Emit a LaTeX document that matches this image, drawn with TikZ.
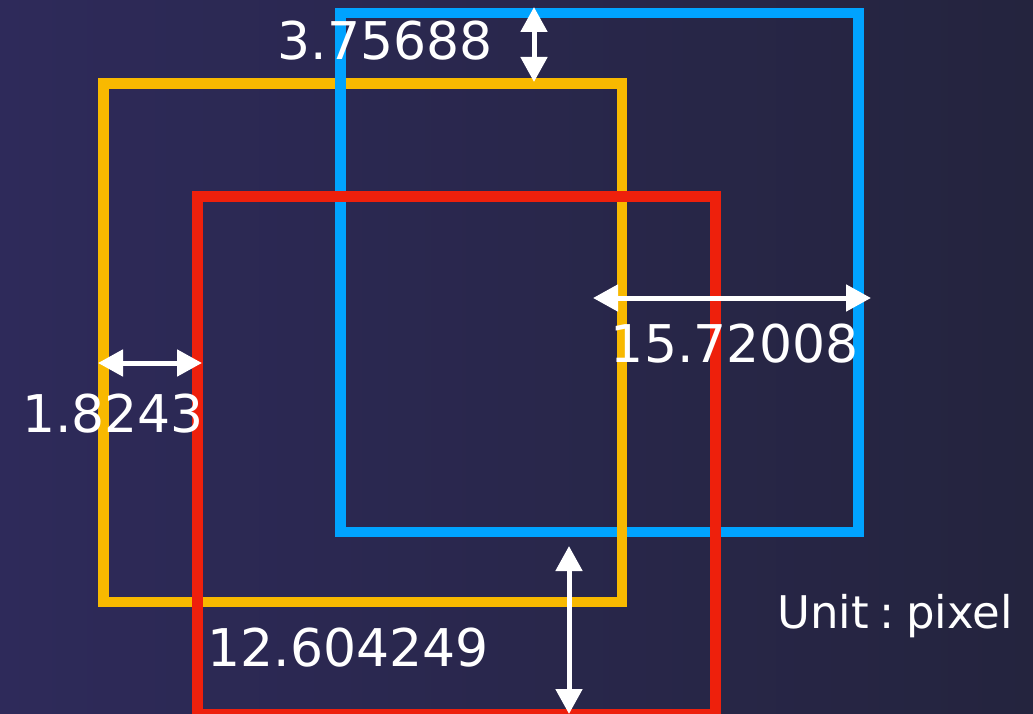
\documentclass[tikz,border=0pt]{standalone}
\usepackage{fontspec}
\setmainfont{DejaVu Sans}
\usetikzlibrary{arrows.meta}
\definecolor{bgleft}{RGB}{46,42,90}
\definecolor{bgright}{RGB}{36,36,62}
\definecolor{boxblue}{RGB}{0,163,255}
\definecolor{boxyellow}{RGB}{248,185,0}
\definecolor{boxred}{RGB}{238,32,12}
\tikzset{
  frame/.style={line width=10.5pt, miter limit=10},
  dimarrow/.style={white, line width=5pt,
    {Triangle[length=25pt,width=26pt]}-{Triangle[length=25pt,width=26pt]}},
  dimlabel/.style={text=white, inner sep=0pt, anchor=base,
    font=\fontsize{52}{52}\selectfont},
  unitlabel/.style={text=white, inner sep=0pt, anchor=base,
    font=\fontsize{45}{45}\selectfont},
}
\begin{document}
\begin{tikzpicture}[x=1pt,y=-1pt]
\useasboundingbox (0,0) rectangle (1033,714);
\clip (0,0) rectangle (1033,714);
\shade[left color=bgleft, right color=bgright] (0,0) rectangle (1033,714);
% box corners
\coordinate (y1) at (103.5,83.5);  \coordinate (y2) at (622,602);
\coordinate (b1) at (340.5,13);    \coordinate (b2) at (858.5,532);
\coordinate (r1) at (197.5,196.5); \coordinate (r2) at (715.5,714.5);
% yellow, then blue, then yellow again where it passes over blue, then red
\draw[frame, boxyellow] (y1) rectangle (y2);
\draw[frame, boxblue] (b1) rectangle (b2);
\draw[boxyellow, line width=10.5pt] (622,520) -- (622,545);
\draw[frame, boxred] (r1) rectangle (r2);
% dimension arrows
\coordinate (a1s) at (534,7);   \coordinate (a1e) at (534,82);
\coordinate (a2s) at (593,298); \coordinate (a2e) at (871,298);
\coordinate (a3s) at (98,363);  \coordinate (a3e) at (202,363);
\coordinate (a4s) at (569,546); \coordinate (a4e) at (569,714);
\draw[dimarrow] (a1s) -- (a1e);
\draw[dimarrow] (a2s) -- (a2e);
\draw[dimarrow] (a3s) -- (a3e);
\draw[dimarrow] (a4s) -- (a4e);
% labels
\node[dimlabel] (l1) at (385,60) {3.75688};
\node[dimlabel] (l2) at (735,362) {15.72008};
\node[dimlabel] (l3) at (113,432) {1.8243};
\node[dimlabel] (l4) at (348,666) {12.604249};
\node[unitlabel] (l5) at (895,628) {Unit\hspace{11pt}:\hspace{11pt}pixel};
\end{tikzpicture}
\end{document}
